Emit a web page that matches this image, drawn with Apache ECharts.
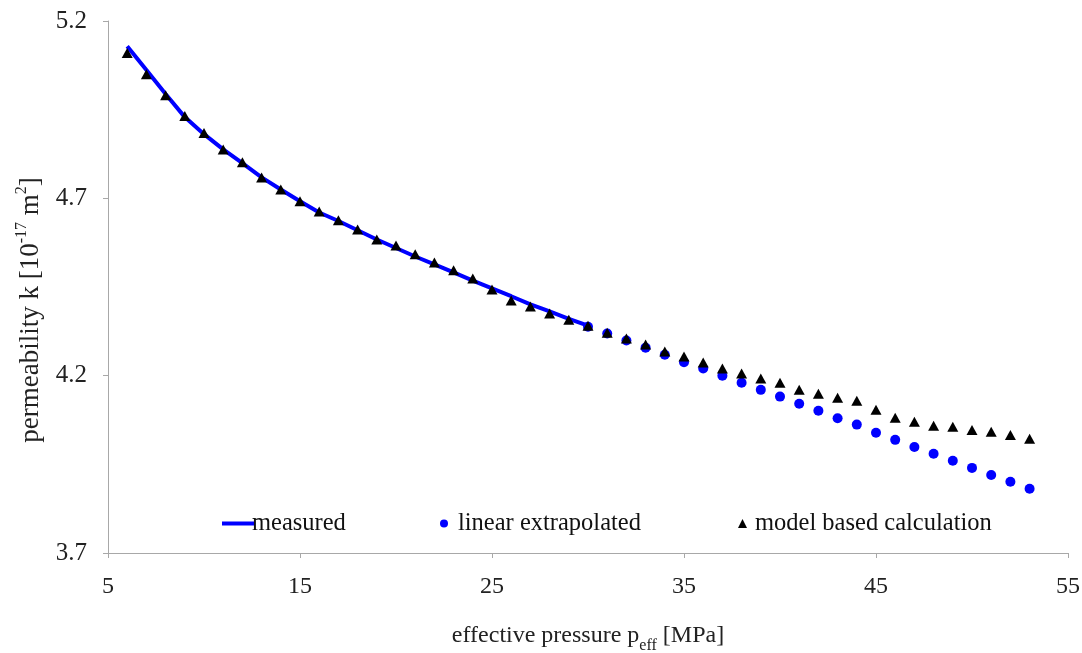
<!DOCTYPE html>
<html>
<head>
<meta charset="utf-8">
<script src="https://cdn.jsdelivr.net/npm/echarts@6/dist/echarts.min.js"></script>
<style>html,body{margin:0;padding:0;background:#fff}#c{width:1082px;height:653px}</style>
</head>
<body>
<div id="c"></div>
<script>
// Measured curve (pressure MPa, permeability 1e-17 m2)
const measuredX = [6,7,8,9,10,11,12,13,14,15,16,17,18,19,20,21,22,23,24,25,26,27,28,29,30];
const measuredY = [5.129,5.062,4.994,4.929,4.881,4.838,4.799,4.759,4.725,4.692,4.660,4.636,4.610,4.584,4.560,4.536,4.514,4.491,4.468,4.446,4.424,4.401,4.381,4.360,4.341];

// Linear extrapolated points
const linearX = [30,31,32,33,34,35,36,37,38,39,40,41,42,43,44,45,46,47,48,49,50,51,52,53];
const linearY = [4.338,4.319,4.299,4.279,4.259,4.238,4.220,4.200,4.180,4.160,4.141,4.121,4.101,4.080,4.062,4.039,4.019,3.999,3.980,3.960,3.940,3.920,3.901,3.881];

// Model based calculation points
const modelX = [6,7,8,9,10,11,12,13,14,15,16,17,18,19,20,21,22,23,24,25,26,27,28,29,30,31,32,33,34,35,36,37,38,39,40,41,42,43,44,45,46,47,48,49,50,51,52,53];
const modelY = [5.110,5.050,4.991,4.932,4.884,4.838,4.802,4.759,4.725,4.692,4.663,4.638,4.612,4.584,4.567,4.542,4.519,4.497,4.474,4.443,4.412,4.395,4.375,4.358,4.341,4.321,4.305,4.288,4.268,4.254,4.237,4.220,4.206,4.192,4.180,4.160,4.149,4.138,4.129,4.104,4.081,4.070,4.059,4.056,4.047,4.042,4.033,4.022];

const xTicks = [5,15,25,35,45,55];
const yTicks = [3.7,4.2,4.7,5.2];
const seriesNames = ['measured','linear extrapolated','model based calculation'];

const zip = (xs, ys) => xs.map((x, i) => [x, ys[i]]);
const FONT = 'Liberation Serif';
const TXT = '#222';

const chart = echarts.init(document.getElementById('c'), null, {renderer: 'canvas'});
chart.setOption({
  animation: false,
  backgroundColor: '#fff',
  grid: {left: 108, right: 14, top: 21, bottom: 100, containLabel: false, outerBoundsMode: 'none'},
  xAxis: {
    type: 'value', min: xTicks[0], max: xTicks[xTicks.length - 1], interval: 10,
    axisLine: {lineStyle: {color: '#a8a8a8', width: 1}},
    axisTick: {show: true, length: 5, lineStyle: {color: '#a8a8a8'}},
    splitLine: {show: false},
    axisLabel: {fontFamily: FONT, fontSize: 24, color: TXT, margin: 22},
    name: '{a|effective pressure p}{s|eff}{a| [MPa]}',
    nameLocation: 'middle', nameGap: 67,
    nameTextStyle: {
      rich: {
        a: {fontFamily: FONT, fontSize: 24, color: TXT, lineHeight: 28, verticalAlign: 'bottom'},
        s: {fontFamily: FONT, fontSize: 16, color: TXT, lineHeight: 18, verticalAlign: 'bottom', padding: [0, 0, -6, 0]}
      }
    }
  },
  yAxis: {
    type: 'value', min: yTicks[0], max: yTicks[yTicks.length - 1], interval: 0.5,
    axisLine: {show: true, lineStyle: {color: '#a8a8a8', width: 1}},
    axisTick: {show: true, length: 5, lineStyle: {color: '#a8a8a8'}},
    splitLine: {show: false},
    axisLabel: {fontFamily: FONT, fontSize: 25, color: TXT, margin: 21, formatter: v => v.toFixed(1)},
    name: '{a|permeability k [10}{p|-17}{a| m}{p|2}{a|]}',
    nameLocation: 'middle', nameGap: 64, nameRotate: 90,
    nameTextStyle: {
      padding: [0, 46, 0, 0],
      rich: {
        a: {fontFamily: FONT, fontSize: 27, color: TXT, lineHeight: 30, verticalAlign: 'bottom'},
        p: {fontFamily: FONT, fontSize: 16, color: TXT, lineHeight: 30, verticalAlign: 'top', padding: [0, 0, 8, 0]}
      }
    }
  },
  legend: [
    {data: [{name: seriesNames[0], icon: 'rect'}], left: 217, top: 506, itemWidth: 33, itemHeight: 4, itemGap: 0,
     textStyle: {fontFamily: FONT, fontSize: 24.5, color: '#111', padding: [0, 0, 0, -8]}},
    {data: [{name: seriesNames[1], icon: 'circle'}], left: 435, top: 506, itemWidth: 8, itemHeight: 8, itemGap: 0,
     textStyle: {fontFamily: FONT, fontSize: 24.5, color: '#111', padding: [0, 0, 0, 5]}},
    {data: [{name: seriesNames[2], icon: 'triangle'}], left: 733, top: 506, itemWidth: 9, itemHeight: 9, itemGap: 0,
     textStyle: {fontFamily: FONT, fontSize: 24.5, color: '#111', padding: [0, 0, 0, 3]}}
  ],
  series: [
    {name: seriesNames[0], type: 'line', data: zip(measuredX, measuredY), symbol: 'none',
     lineStyle: {color: '#0000ff', width: 4}, itemStyle: {color: '#0000ff'}, z: 2},
    {name: seriesNames[1], type: 'scatter', data: zip(linearX, linearY), symbol: 'circle', symbolSize: 10,
     itemStyle: {color: '#0000ff', opacity: 1}, z: 3},
    {name: seriesNames[2], type: 'scatter', data: zip(modelX, modelY), symbol: 'triangle', symbolSize: [11, 10],
     itemStyle: {color: '#000000', opacity: 1}, z: 4}
  ]
});
</script>
</body>
</html>
